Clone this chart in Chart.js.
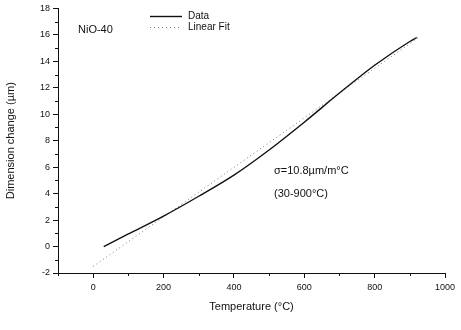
<!DOCTYPE html>
<html>
<head>
<meta charset="utf-8">
<script src="https://cdn.jsdelivr.net/npm/chart.js@4/dist/chart.umd.min.js"></script>
<style>
  html, body { margin: 0; padding: 0; background: #fff; }
  #wrap { width: 461px; height: 330px; }
</style>
</head>
<body>
<div id="wrap"><canvas id="c"></canvas></div>
<script>
// data
const tempData = [30, 100, 200, 300, 400, 500, 600, 700, 800, 900, 920];
const dimData = [0, 0.95, 2.3, 3.8, 5.4, 7.3, 9.4, 11.6, 13.7, 15.5, 15.8];
const tempFit = [0, 930];
const dimFit = [-1.5, 15.9];
const xTicks = [0, 200, 400, 600, 800, 1000];
const yTicks = [-2, 0, 2, 4, 6, 8, 10, 12, 14, 16, 18];

const font = "'Liberation Sans', Arial, sans-serif";
const ink = '#111';

// 보조 눈금 + 주석 + 범례 직접 그리기
const extras = {
    id: 'extras',
    afterDraw(chart) {
        const ctx = chart.ctx;
        const xs = chart.scales.x, ys = chart.scales.y;
        ctx.save();
        ctx.strokeStyle = ink;
        ctx.lineWidth = 1;
        // minor ticks
        for (let v = -100; v <= 1000; v += 100) {
            if (v % 200 === 0) continue;
            const px = Math.round(xs.getPixelForValue(v)) + 0.5;
            ctx.beginPath();
            ctx.moveTo(px, ys.bottom);
            ctx.lineTo(px, ys.bottom + 3);
            ctx.stroke();
        }
        for (let v = -1; v <= 17; v += 2) {
            const py = Math.round(ys.getPixelForValue(v)) + 0.5;
            ctx.beginPath();
            ctx.moveTo(xs.left, py);
            ctx.lineTo(xs.left - 3, py);
            ctx.stroke();
        }
        // texts
        ctx.fillStyle = ink;
        ctx.textBaseline = 'middle';
        ctx.textAlign = 'left';
        ctx.font = '11px ' + font;
        ctx.fillText('NiO-40', 78, 30);
        ctx.fillText('σ=10.8µm/m°C', 274, 171);
        ctx.fillText('(30-900°C)', 274, 194);
        // legend
        const ds = chart.data.datasets;
        const rows = [[ds[0], 16], [ds[1], 27]];
        rows.forEach(([d, y]) => {
            ctx.beginPath();
            ctx.strokeStyle = d.borderColor;
            ctx.lineWidth = d.borderWidth;
            ctx.setLineDash(d.borderDash || []);
            ctx.moveTo(150, y + 0.5);
            ctx.lineTo(182, y + 0.5);
            ctx.stroke();
            ctx.setLineDash([]);
            ctx.fillStyle = ink;
            ctx.font = '10px ' + font;
            ctx.fillText(d.label, 188, y);
        });
        ctx.restore();
    }
};

new Chart(document.getElementById('c'), {
    type: 'scatter',
    data: {
        datasets: [{
            label: 'Data',
            data: tempData.map((t, i) => ({ x: t, y: dimData[i] })),
            showLine: true,
            borderColor: '#111',
            borderWidth: 1.4,
            pointRadius: 0,
            cubicInterpolationMode: 'monotone'
        }, {
            label: 'Linear Fit',
            data: tempFit.map((t, i) => ({ x: t, y: dimFit[i] })),
            showLine: true,
            borderColor: '#777',
            borderWidth: 1,
            borderDash: [1, 3],
            pointRadius: 0
        }]
    },
    options: {
        responsive: true,
        maintainAspectRatio: false,
        animation: false,
        layout: { padding: { left: 0, right: 16, top: 8, bottom: 12 } },
        plugins: { legend: { display: false }, tooltip: { enabled: false } },
        scales: {
            x: {
                type: 'linear',
                min: -100,
                max: 1000,
                afterBuildTicks: s => { s.ticks = xTicks.map(v => ({ value: v })); },
                afterFit: s => { s.height = 45; },
                border: { color: ink, width: 1 },
                grid: { drawOnChartArea: false, tickLength: 5, color: ink },
                ticks: { color: ink, font: { family: font, size: 9 }, padding: 4, maxRotation: 0, callback: v => String(v) },
                title: { display: true, text: 'Temperature (°C)', color: ink, font: { family: font, size: 11 }, padding: { top: 6 } }
            },
            y: {
                min: -2,
                max: 18,
                afterBuildTicks: s => { s.ticks = yTicks.map(v => ({ value: v })); },
                afterFit: s => { s.width = 58; },
                border: { color: ink, width: 1 },
                grid: { drawOnChartArea: false, tickLength: 5, color: ink },
                ticks: { color: ink, font: { family: font, size: 9 }, padding: 3 },
                title: { display: true, text: 'Dimension change (µm)', color: ink, font: { family: font, size: 11 }, padding: { bottom: 4 } }
            }
        }
    },
    plugins: [extras]
});
</script>
</body>
</html>
